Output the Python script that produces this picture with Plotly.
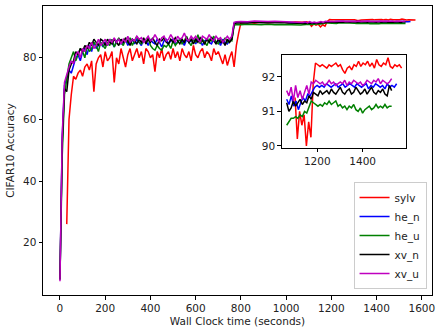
import plotly.graph_objects as go
import numpy as np

# ---------------- data ----------------
series_names = ["sylv", "he_n", "he_u", "xv_n", "xv_u"]
series_colors = ["#ff0000", "#0000ff", "#008000", "#000000", "#bf00bf"]

# early phase: sampled every 10 s
t_early = list(range(0, 770, 10))          # 0..760
t_early_red = list(range(30, 770, 10))     # 30..760

sylv_early = [
    26, 60, 68, 74, 73, 75, 76, 74, 77, 78,
    76, 79, 69, 78, 80, 81, 77, 82, 79, 80,
    82, 72, 80, 78, 83, 80, 77, 81, 83, 79,
    81, 83, 80, 82, 78, 83, 82, 80, 81, 75.5,
    82, 80, 83, 79, 81, 82, 79.5, 83, 80, 82,
    79, 83, 81, 80, 82, 79, 84, 81, 80, 82,
    83, 80, 82, 81, 79, 83, 81, 82, 80, 78,
    81, 77.5, 80, 82,
]
he_n_early = [
    8, 54, 71, 74, 76, 75, 78, 80, 81, 79,
    82, 83, 81, 84, 82, 85, 83, 84, 85, 83.5,
    85, 84, 86, 85, 83.5, 85.5, 86, 84.5, 85, 86,
    84, 85.5, 86, 84.5, 86, 85, 84, 86, 85.5, 84,
    86, 85, 84.5, 86, 85, 83.5, 85.5, 86, 84.5, 85.5,
    86, 84.5, 85, 86, 85.5, 84, 86, 85, 85.5, 86,
    84.5, 86, 85.5, 84, 85.5, 86, 85, 84.5, 86, 85,
    85.5, 84, 86, 85, 84.5, 85.5, 86,
]
he_u_early = [
    8, 48, 68, 74, 78, 80, 82, 79, 81, 83,
    82, 80, 84, 82, 83, 85, 84, 82, 85, 84,
    83, 85, 84, 86, 83.5, 85, 86.5, 85, 84, 86,
    85, 86.5, 84, 85.5, 87, 85, 84.5, 86, 85, 86.5,
    84, 83, 82.5, 84, 83, 82.5, 84, 83.5, 84.5, 83,
    85.5, 84, 85, 86, 84.5, 85.5, 87, 85, 84, 86,
    85, 87.5, 84.5, 86, 85, 84, 86, 85.5, 87, 85,
    84.5, 86, 85, 86.5, 85, 86, 85.5,
]
xv_n_early = [
    8, 52, 70, 69, 76, 78, 79, 82, 81, 83,
    82, 84, 83, 85, 84, 86, 85, 84, 86, 85.5,
    84, 86, 85, 84.5, 86, 85, 84, 86, 85, 86.5,
    85, 84, 86, 85.5, 84.5, 86, 85, 86.5, 84.5, 86,
    85, 86.5, 85, 84, 86, 85.5, 86.5, 85, 84.5, 86,
    85, 86.5, 85.5, 84.5, 86, 85, 86.5, 85, 86, 84.5,
    86, 85, 86.5, 85.5, 84.5, 86, 85, 86.5, 85.5, 84.5,
    86, 85, 85.5, 84, 86, 85, 86,
]
xv_u_early = [
    7.5, 55, 72, 75, 77, 79, 78, 81, 82, 80,
    83, 82, 84, 83, 85, 83, 84, 86, 84, 85,
    86, 84, 86, 85, 86.5, 85, 86, 84.5, 86, 85,
    87, 85, 86, 85.5, 87, 86, 86.5, 85, 86, 87,
    85.5, 86, 87.5, 86, 85, 86.5, 87, 85.5, 86, 87.5,
    86, 85, 87, 86, 86.5, 88, 86, 85.5, 87, 86,
    87, 86, 85, 87, 86.5, 86, 87.5, 86, 85.5, 87,
    86, 86.5, 85, 86, 87, 86, 87,
]

# middle phase (after the jump, before the inset window)
t_mid = [770, 780, 800, 830, 860, 890, 920, 950, 980, 1010, 1040]
t_mid_red = [770, 780, 790, 800, 830, 860, 890, 920, 950, 980, 1010, 1040, 1070, 1090]
sylv_mid = [77, 84, 88, 91.3, 91.5, 91.2, 91.6, 91.4, 91.5, 91.7, 91.4, 91.6, 91.5, 91.7]
he_n_mid = [91.2, 91.5, 91.6, 91.5, 91.7, 91.6, 91.5, 91.65, 91.55, 91.4, 91.5]
he_u_mid = [90.5, 90.8, 90.7, 90.9, 90.8, 90.75, 90.9, 90.7, 90.8, 90.65, 90.7]
xv_n_mid = [91.0, 91.3, 91.4, 91.3, 91.5, 91.35, 91.4, 91.3, 91.45, 91.3, 91.2]
xv_u_mid = [91.5, 91.7, 91.8, 91.7, 91.9, 91.8, 91.75, 91.85, 91.8, 91.7, 91.75]

# late phase (the inset window), 48 samples per run
t_late_sylv = np.linspace(1102, 1572, 48)
t_late_he_n = np.linspace(1065, 1550, 48)
t_late_other = np.linspace(1065, 1528, 48)

sylv_late = [
    91.4, 90.2, 91.0, 90.6, 90.9, 90.0, 90.7, 90.25,
    91.8, 92.4, 92.35, 92.3, 92.35, 92.3, 92.25, 92.35,
    92.3, 92.35, 92.4, 92.3, 92.35, 92.2, 92.1, 92.25,
    92.3, 92.2, 92.35, 92.3, 92.45, 92.3, 92.4, 92.35,
    92.45, 92.3, 92.4, 92.25, 92.5, 92.35, 92.3, 92.4,
    92.35, 92.55, 92.3, 92.25, 92.35, 92.3, 92.35, 92.25,
]
he_n_late = [
    91.35, 91.2, 91.45, 91.15, 91.3, 91.05, 91.25, 91.4,
    91.3, 91.5, 91.45, 91.6, 91.7, 91.75, 91.7, 91.75,
    91.7, 91.8, 91.75, 91.7, 91.75, 91.8, 91.7, 91.75,
    91.8, 91.7, 91.75, 91.8, 91.75, 91.7, 91.8, 91.75,
    91.7, 91.75, 91.8, 91.65, 91.75, 91.7, 91.8, 91.75,
    91.7, 91.75, 91.65, 91.8, 91.7, 91.75, 91.7, 91.8,
]
he_u_late = [
    90.6, 90.7, 90.8, 90.8, 90.85, 90.8, 90.9, 90.85,
    91.0, 90.95, 91.15, 91.3, 91.25, 91.2, 91.15, 91.2,
    91.15, 91.25, 91.2, 91.3, 91.2, 91.25, 91.3, 91.15,
    91.2, 91.1, 91.15, 91.05, 91.15, 91.1, 91.2, 91.05,
    91.0, 91.1, 90.95, 91.05, 91.1, 91.15, 91.05, 91.1,
    91.2, 91.1, 91.15, 91.1, 91.2, 91.1, 91.15, 91.15,
]
xv_n_late = [
    91.25, 91.0, 91.1, 91.3, 91.15, 91.25, 91.35, 91.2,
    91.3, 91.25, 91.45, 91.35, 91.55, 91.5, 91.45, 91.6,
    91.5, 91.55, 91.6, 91.5, 91.65, 91.55, 91.5, 91.6,
    91.7, 91.55, 91.5, 91.6, 91.65, 91.5, 91.55, 91.7,
    91.6, 91.5, 91.55, 91.65, 91.5, 91.6, 91.7, 91.55,
    91.5, 91.6, 91.55, 91.65, 91.5, 91.45, 91.75, 91.6,
]
xv_u_late = [
    91.6, 91.45, 91.7, 91.3, 91.75, 91.4, 91.6, 91.35,
    91.55, 91.75, 91.5, 91.85, 91.8, 91.9, 91.85, 91.8,
    91.85, 91.75, 91.8, 91.9, 91.8, 91.85, 91.75, 91.8,
    91.85, 91.8, 91.9, 91.75, 91.85, 91.8, 91.9, 91.85,
    91.8, 91.85, 91.75, 91.8, 91.9, 91.85, 91.8, 91.9,
    91.85, 91.95, 91.8, 91.9, 91.85, 91.8, 91.85, 91.95,
]

main_x_ticks = [0, 200, 400, 600, 800, 1000, 1200, 1400, 1600]
main_y_ticks = [20, 40, 60, 80]
inset_x_ticks = [1200, 1400]
inset_y_ticks = [90, 91, 92]

# ---------------- assemble ----------------
runs = [
    (t_early_red, sylv_early, t_mid_red, sylv_mid, t_late_sylv, sylv_late),
    (t_early, he_n_early, t_mid, he_n_mid, t_late_he_n, he_n_late),
    (t_early, he_u_early, t_mid, he_u_mid, t_late_other, he_u_late),
    (t_early, xv_n_early, t_mid, xv_n_mid, t_late_other, xv_n_late),
    (t_early, xv_u_early, t_mid, xv_u_mid, t_late_other, xv_u_late),
]

fig = go.Figure()
FONT = "DejaVu Sans"
for name, color, (te, ve, tm, vm, tl, vl) in zip(series_names, series_colors, runs):
    fig.add_trace(go.Scatter(
        x=list(te) + list(tm) + list(tl), y=list(ve) + list(vm) + list(vl),
        mode="lines", name=name, line=dict(color=color, width=1.5),
        xaxis="x", yaxis="y", showlegend=True))
for name, color, (te, ve, tm, vm, tl, vl) in zip(series_names, series_colors, runs):
    fig.add_trace(go.Scatter(
        x=list(tl), y=list(vl), mode="lines", name=name,
        line=dict(color=color, width=1.5),
        xaxis="x2", yaxis="y2", showlegend=False))

axis_common = dict(showline=True, linecolor="black", linewidth=1, mirror=True,
                   ticks="outside", ticklen=3.5, tickwidth=1, tickcolor="black",
                   showgrid=False, zeroline=False, automargin=False,
                   tickfont=dict(family=FONT, size=10.5, color="#222"))

fig.update_layout(
    width=439, height=333,
    margin=dict(l=43, r=7, t=6, b=38),
    paper_bgcolor="white", plot_bgcolor="white",
    font=dict(family=FONT, size=10.5, color="#222"),
    xaxis=dict(domain=[0, 1], range=[-75, 1645], tickvals=main_x_ticks,
               title=dict(text="Wall Clock time (seconds)", standoff=4,
                          font=dict(family=FONT, size=10.5, color="#222")),
               anchor="y", **axis_common),
    yaxis=dict(domain=[0, 1], range=[3.0, 96.8], tickvals=main_y_ticks,
               title=dict(text="CIFAR10 Accuracy", standoff=6,
                          font=dict(family=FONT, size=10.5, color="#222")),
               anchor="x", **axis_common),
    xaxis2=dict(domain=[0.6136, 0.9324], range=[1043, 1590], tickvals=inset_x_ticks,
                anchor="y2", **axis_common),
    yaxis2=dict(domain=[0.5097, 0.8315], range=[89.95, 92.64], tickvals=inset_y_ticks,
                anchor="x2", **axis_common),
    legend=dict(x=0.986, y=0.021, xanchor="right", yanchor="bottom",
                bgcolor="rgba(255,255,255,0.8)", bordercolor="#cccccc", borderwidth=1,
                font=dict(family=FONT, size=10.5, color="#222"),
                itemwidth=30, tracegroupgap=0),
    showlegend=True,
)

fig.write_html("out.html",
               config={"displayModeBar": False},
               post_script="document.body.style.margin='0';document.body.style.padding='0';")
